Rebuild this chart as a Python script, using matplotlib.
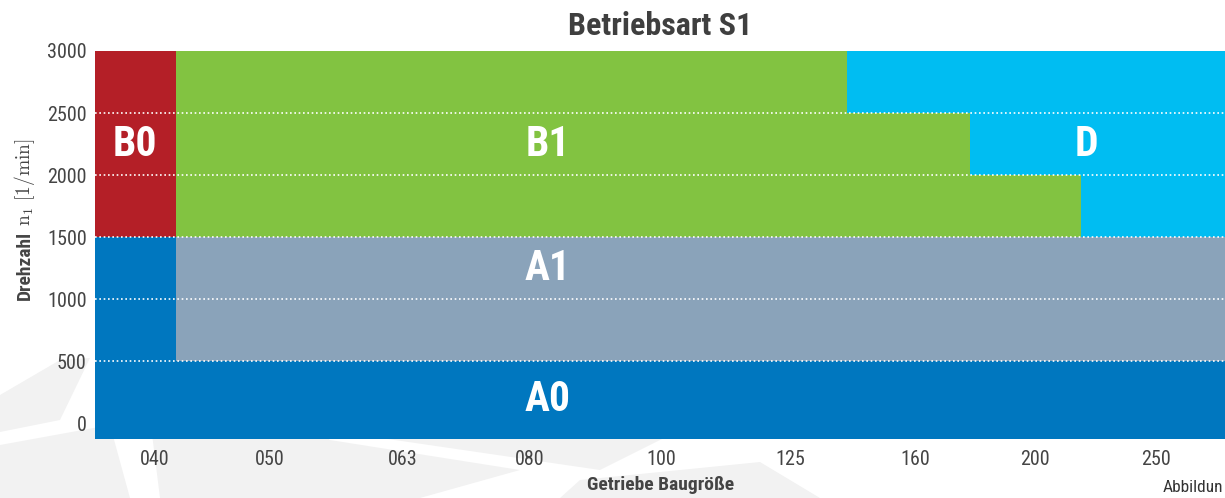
import matplotlib
matplotlib.use("Agg")
import matplotlib.pyplot as plt
from matplotlib import font_manager as fm
from matplotlib.patches import Polygon

# ---------------- data ----------------
sizes = ["040", "050", "063", "080", "100", "125", "160", "200", "250"]
size_pos = [0.48, 1.40, 2.46, 3.48, 4.53, 5.56, 6.56, 7.52, 8.49]
x_end = 9.3

speed_ticks = [0, 500, 1000, 1500, 2000, 2500, 3000]
y_min = -125

# boundary between class 0 (A0/B0) and class 1 (A1/B1) along the size axis
class0_limit = 0.648
# upper bands (1500-2000, 2000-2500, 2500-3000): end of B1 region (D follows)
upper_bands = [(1500, 2000), (2000, 2500), (2500, 3000)]
b1_limit = [7.888, 7.0, 6.016]
# middle bands: A0 on the left, A1 to the right
mid_bands = [(500, 1000), (1000, 1500)]
low_band = (y_min, 500)

col = {"A0": "#0077BF", "A1": "#8AA3BA", "B0": "#B41F27",
       "B1": "#82C341", "D": "#00BDF2"}
labels = {"B0": (0.316, 2250), "B1": (3.62, 2250), "D": (7.93, 2250),
          "A1": (3.62, 1250), "A0": (3.62, 190)}

# ---------------- fonts ----------------
names = {f.name for f in fm.fontManager.ttflist}
cond = next((n for n in ["Roboto Condensed", "Liberation Sans Narrow",
                         "DejaVu Sans Condensed", "Roboto"] if n in names),
            "DejaVu Sans")
txt_col = "#444444"

W, H = 1225, 498
fig = plt.figure(figsize=(W / 100, H / 100), dpi=100)
fig.patch.set_facecolor("white")

# faint background watermark tiles (behind everything)
bg = fig.add_axes([0, 0, 1, 1], zorder=-5)
bg.set_xlim(0, W)
bg.set_ylim(H, 0)
bg.axis("off")
wm = [
    [(0, 395), (60, 360), (90, 358), (60, 420), (0, 432)],
    [(0, 445), (110, 425), (130, 498), (0, 498)],
    [(150, 418), (290, 408), (330, 440), (520, 470), (420, 498), (160, 498)],
    [(300, 395), (560, 400), (700, 420), (600, 470), (340, 432)],
    [(580, 480), (760, 462), (820, 498), (560, 498)],
]
for poly in wm:
    bg.add_patch(Polygon(poly, closed=True, facecolor="#f2f2f2",
                         edgecolor="none"))

left_px, top_px, bot_px = 95, 51, 439
unit_px = 125
ax = fig.add_axes([left_px / W, (H - bot_px) / H,
                   x_end * unit_px / W, (bot_px - top_px) / H], zorder=1)
ax.set_facecolor("none")

def seg(y0, y1, x0, x1, c):
    ax.barh((y0 + y1) / 2, x1 - x0, left=x0, height=y1 - y0,
            color=c, edgecolor="none", linewidth=0, zorder=1)

seg(low_band[0], low_band[1], 0, x_end, col["A0"])
for y0, y1 in mid_bands:
    seg(y0, y1, 0, class0_limit, col["A0"])
    seg(y0, y1, class0_limit, x_end, col["A1"])
for (y0, y1), lim in zip(upper_bands, b1_limit):
    seg(y0, y1, 0, class0_limit, col["B0"])
    seg(y0, y1, class0_limit, lim, col["B1"])
    seg(y0, y1, lim, x_end, col["D"])

for yv in speed_ticks[1:-1]:
    ax.axhline(yv, color="white", linewidth=1.2, linestyle=(0, (1, 1.6)),
               zorder=2)

for k, (xv, yv) in labels.items():
    ax.text(xv, yv, k, color="white", fontsize=30, fontweight="bold",
            family=cond, ha="center", va="center", zorder=3)

ax.set_xlim(0, x_end)
ax.set_ylim(y_min, 3000)
ax.set_xticks(size_pos)
ax.set_xticklabels(sizes)
ax.set_yticks(speed_ticks)
ax.set_yticklabels([str(v) for v in speed_ticks])
for s in ax.spines.values():
    s.set_visible(False)
ax.tick_params(length=0, labelsize=14.5, colors=txt_col, pad=6)
ax.tick_params(axis="x", pad=8)
for lab in ax.get_xticklabels() + ax.get_yticklabels():
    lab.set_family(cond)

fig.text(660 / W, 1 - 26 / H, "Betriebsart S1", fontsize=23,
         fontweight="bold", family=cond, color="#3f3f3f",
         ha="center", va="center")
fig.text(661 / W, 1 - 485 / H, "Getriebe Baugröße", fontsize=14,
         fontweight="bold", family=cond, color=txt_col,
         ha="center", va="center")
fig.text(1223 / W, 1 - 492 / H, "Abbildun", fontsize=12.5, family=cond,
         color="#333333", ha="right", va="baseline")

# y label: bold "Drehzahl" + serif math part
plt.rcParams["mathtext.fontset"] = "cm"
t1 = fig.text(30 / W, 1 - 300 / H, "Drehzahl", fontsize=14,
              fontweight="bold", family=cond, color=txt_col,
              rotation=90, rotation_mode="anchor", ha="left", va="baseline")
fig.canvas.draw()
bb = t1.get_window_extent()
fig.text(30 / W, (bb.y1 + 5) / H, r"$\mathrm{n_1\ [1/min]}$", fontsize=14,
         color=txt_col, rotation=90, rotation_mode="anchor",
         ha="left", va="baseline")

fig.savefig("out.png", dpi=100, facecolor="white")
